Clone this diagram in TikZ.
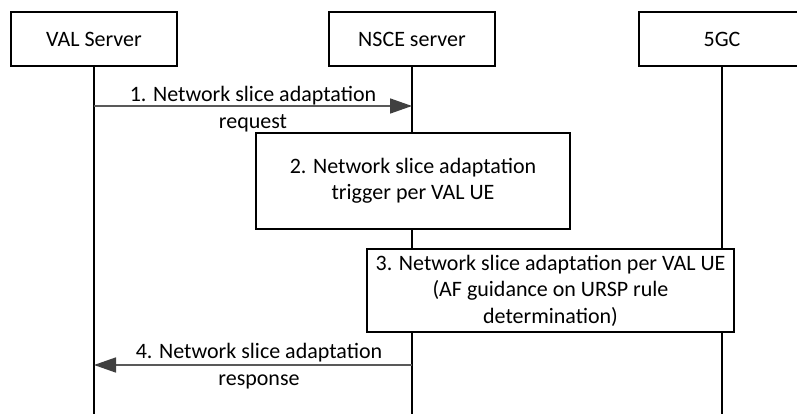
\documentclass[tikz,border=0pt]{standalone}
\usepackage{fontspec}
\setmainfont{Carlito}
\usetikzlibrary{positioning, arrows.meta}
\definecolor{msgGray}{HTML}{595959}
\definecolor{tipGray}{HTML}{404040}

\begin{document}
\begin{tikzpicture}[x=1pt, y=-1pt, font=\fontsize{22}{26.5}\selectfont,
  entity/.style={draw, line width=1.5pt, fill=white, minimum width=166pt, minimum height=54pt, inner sep=0pt},
  stepbox/.style={draw, line width=1.5pt, fill=white, align=center, inner sep=0pt},
  lifeline/.style={line width=1.7pt},
  msg/.style={draw=msgGray, line width=1.6pt, -{Triangle[length=22pt, width=15pt, fill=tipGray, color=tipGray]}},
  msglabel/.style={align=center}]
  \useasboundingbox (0,0) rectangle (797,414);
  \clip (0,0) rectangle (797,414);

  % lifelines
  \coordinate (valEnd) at (94,414);
  \coordinate (nsceEnd) at (412,414);
  \coordinate (fivegcEnd) at (722,414);
  \draw[lifeline] (94,66) -- (valEnd);
  \draw[lifeline] (412,66) -- (nsceEnd);
  \draw[lifeline] (722,66) -- (fivegcEnd);

  % entities
  \node[entity] (val) at (94,39) {VAL Server};
  \node[entity] (nsce) at (412,39) {NSCE server};
  \node[entity] (fivegc) at (722,39) {5GC};

  % message 1
  \coordinate (req0) at (94,106);
  \coordinate (req1) at (412,106);
  \draw[msg] (req0) -- (req1);
  \node[msglabel] (reqText) at (253,109) {1. Network slice adaptation\\request};

  % step 2
  \node[stepbox, minimum width=314pt, minimum height=96pt] (trigger) at (413,181)
    {2. Network slice adaptation\\trigger per VAL UE};

  % step 3
  \node[stepbox, minimum width=367pt, minimum height=83pt] (adapt) at (550.5,290.5)
    {3. Network slice adaptation per VAL UE\\(AF guidance on URSP rule\\determination)};

  % message 4
  \coordinate (rsp0) at (412,365);
  \coordinate (rsp1) at (94,365);
  \draw[msg] (rsp0) -- (rsp1);
  \node[msglabel] (rspText) at (259,366) {4. Network slice adaptation\\response};
\end{tikzpicture}
\end{document}
